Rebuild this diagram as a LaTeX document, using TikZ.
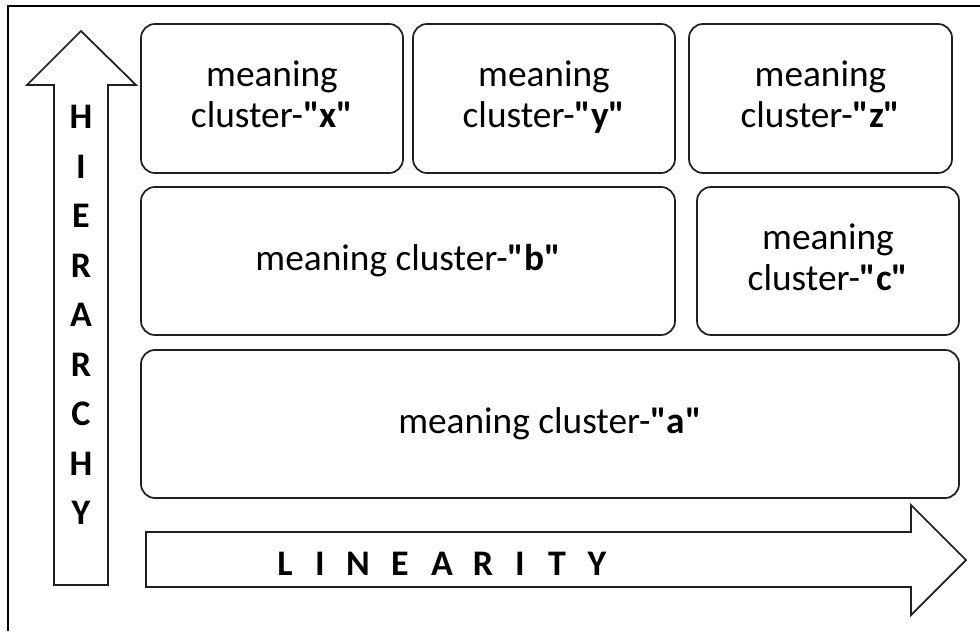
\documentclass[tikz,border=0pt]{standalone}
\usepackage{fontspec}
\setmainfont{Carlito}[Ligatures=TeXOff]
\begin{document}
\begin{tikzpicture}[x=0.75pt,y=-0.75pt,
  box/.style={draw=black!88, line width=1.3pt, rounded corners=10.5pt, inner sep=0pt},
  boxtext/.style={inner sep=0pt, align=center, font=\fontsize{28}{30.5}\selectfont},
  arrowshape/.style={draw=black!88, line width=1.3pt, line join=miter},
  letter/.style={inner sep=0pt, font=\fontsize{27}{27}\selectfont\bfseries},
  frame/.style={draw=black, line width=1.8pt}]
\useasboundingbox (0,0) rectangle (980,631);
% frame (left and top edges)
\draw[frame] (8,631) -- (8,6) -- (980,6);
% boxes
\node[box, minimum width=196.5pt, minimum height=111.75pt] (bx) at (272,98.5) {};
\node[box, minimum width=196.5pt, minimum height=111.75pt] (by) at (544,98.5) {};
\node[box, minimum width=197.25pt, minimum height=111.75pt] (bz) at (820.5,98.5) {};
\node[box, minimum width=400.5pt, minimum height=111pt] (bb) at (408,261) {};
\node[box, minimum width=196.5pt, minimum height=111pt] (bc) at (828,261) {};
\node[box, minimum width=613.5pt, minimum height=111pt] (ba) at (550,424) {};
% box texts
\node[boxtext] (tx) at ([yshift=3pt]bx.center) {meaning\\cluster-\textbf{"x"}};
\node[boxtext] (ty) at ([yshift=3pt]by.center) {meaning\\cluster-\textbf{"\smash{y}"}};
\node[boxtext] (tz) at ([yshift=3pt]bz.center) {meaning\\cluster-\textbf{"z"}};
\node[boxtext] (tc) at ([yshift=3pt]bc.center) {meaning\\cluster-\textbf{"c"}};
\node[boxtext] (tb) at (bb.center) {meaning cluster-\textbf{"b"}};
\node[boxtext] (ta) at (ba.center) {meaning cluster-\textbf{"a"}};
% hierarchy arrow
\draw[arrowshape] (81,31) -- (136,85) -- (108,85) -- (108,585) -- (54,585) -- (54,85) -- (27,85) -- cycle;
\foreach \l [count=\i from 0] in {H,I,E,R,A,R,C,H,Y}
  \node[letter] (hier\i) at (81,117+49.5*\i) {\l};
% linearity arrow
\draw[arrowshape] (146,532) -- (911,532) -- (911,505) -- (966,560) -- (911,615) -- (911,587) -- (146,587) -- cycle;
\foreach \l/\xx [count=\i] in {L/285,I/320,N/358,E/400,A/442,R/483,I/520,T/557,Y/597}
  \node[letter] (lin\i) at (\xx,563.5) {\l};
\end{tikzpicture}
\end{document}
